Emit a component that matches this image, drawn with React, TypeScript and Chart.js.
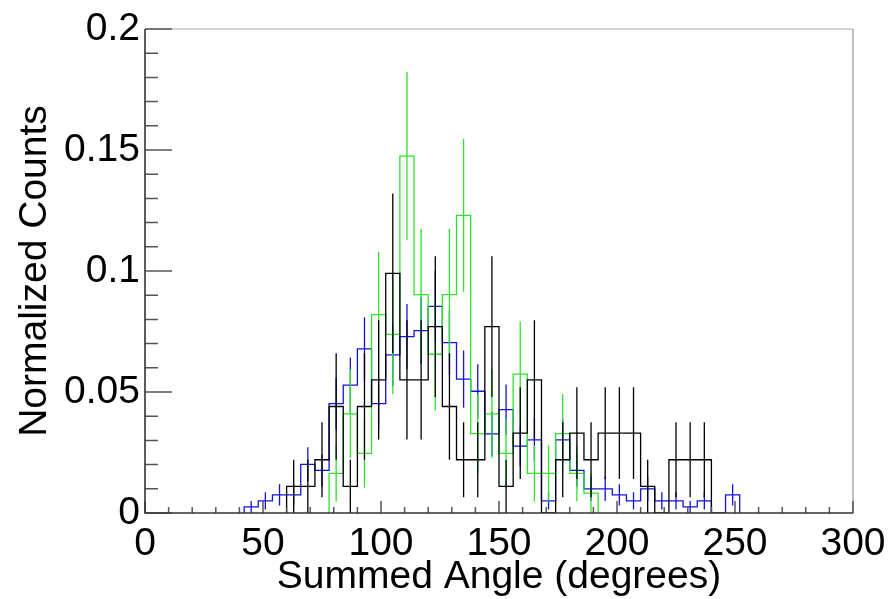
import { useEffect, useRef } from 'react';
import { Chart, registerables } from 'chart.js';

Chart.register(...registerables);

// Bin centres (degrees), 6-degree bins
const angleBins = [45, 51, 57, 63, 69, 75, 81, 87, 93, 99, 105, 111, 117, 123, 129, 135, 141, 147, 153, 159, 165, 171, 177, 183, 189, 195, 201, 207, 213, 219, 225, 231, 237, 243, 249];
const BIN_WIDTH = 6;

const blackValues = [0, 0, 0, 0.011, 0.011, 0.022, 0.044, 0.011, 0.044, 0.055, 0.099, 0.055, 0.055, 0.077, 0.044, 0.022, 0.022, 0.077, 0.011, 0.033, 0.055, 0, 0.022, 0.033, 0.022, 0.033, 0.033, 0.033, 0.011, 0, 0.022, 0.022, 0.022, 0, 0];
const blackErrors = [0, 0, 0, 0.011, 0.011, 0.0155, 0.022, 0.011, 0.022, 0.0246, 0.033, 0.0246, 0.0246, 0.0291, 0.022, 0.0155, 0.0155, 0.0291, 0.011, 0.019, 0.0246, 0, 0.0155, 0.019, 0.0155, 0.019, 0.019, 0.019, 0.011, 0, 0.0155, 0.0155, 0.0155, 0, 0];

const greenValues = [0, 0, 0, 0, 0, 0, 0.0164, 0.041, 0.0246, 0.082, 0.0738, 0.1475, 0.0902, 0.0656, 0.0902, 0.123, 0.0328, 0.041, 0.0246, 0.0574, 0.0164, 0.0164, 0.0328, 0.0164, 0.0082, 0, 0, 0, 0, 0, 0, 0, 0, 0, 0];
const greenErrors = [0, 0, 0, 0, 0, 0, 0.0116, 0.0183, 0.0142, 0.0259, 0.0246, 0.0348, 0.0272, 0.0232, 0.0272, 0.0317, 0.0164, 0.0183, 0.0142, 0.0217, 0.0116, 0.0116, 0.0164, 0.0116, 0.0082, 0, 0, 0, 0, 0, 0, 0, 0, 0, 0];

const blueValues = [0.0025, 0.005, 0.0075, 0.0075, 0.0201, 0.0176, 0.0452, 0.0528, 0.0678, 0.0452, 0.0653, 0.0729, 0.0754, 0.0854, 0.0704, 0.0553, 0.0503, 0.0327, 0.0427, 0.0276, 0.0302, 0.005, 0.0302, 0.0176, 0.01, 0.01, 0.0075, 0.005, 0.01, 0.005, 0.005, 0.0025, 0.005, 0, 0.0075];
const blueErrors = [0.0025, 0.0036, 0.0044, 0.0044, 0.0071, 0.0066, 0.0107, 0.0115, 0.0131, 0.0107, 0.0128, 0.0135, 0.0138, 0.0147, 0.0133, 0.0118, 0.0112, 0.0091, 0.0104, 0.0083, 0.0087, 0.0036, 0.0087, 0.0066, 0.005, 0.005, 0.0044, 0.0036, 0.005, 0.0036, 0.0036, 0.0025, 0.0036, 0, 0.0044];

const xTickValues = [0, 50, 100, 150, 200, 250, 300];
const xTickLabels = ['0', '50', '100', '150', '200', '250', '300'];
const yTickValues = [0, 0.05, 0.1, 0.15, 0.2];
const yTickLabels = ['0', '0.05', '0.1', '0.15', '0.2'];
const X_MINOR = 10;
const Y_MINOR = 0.01;

const BLACK = '#000000';
const GREEN = '#2ee22e';
const BLUE = '#1414d8';
const FONT = 'Liberation Sans, Arial, Helvetica, sans-serif';

function stepPoints(values: number[]) {
  const first = values.findIndex((v) => v > 0);
  let last = values.length - 1;
  while (last > 0 && !(values[last] > 0)) last--;
  const pts: { x: number; y: number }[] = [];
  pts.push({ x: angleBins[first] - BIN_WIDTH / 2, y: 0 });
  for (let i = first; i <= last; i++) pts.push({ x: angleBins[i] - BIN_WIDTH / 2, y: values[i] });
  pts.push({ x: angleBins[last] + BIN_WIDTH / 2, y: 0 });
  return pts;
}

function errorPoints(values: number[], errors: number[]) {
  const pts: { x: number; y: number | null }[] = [];
  values.forEach((v, i) => {
    if (v > 0) {
      pts.push({ x: angleBins[i], y: Math.max(0, v - errors[i]) });
      pts.push({ x: angleBins[i], y: v + errors[i] });
      pts.push({ x: angleBins[i], y: null });
    }
  });
  return pts;
}

const framePlugin = {
  id: 'rootFrame',
  afterDatasetsDraw(chart: any) {
    const { ctx, chartArea } = chart;
    const xs = chart.scales.x;
    const ys = chart.scales.y;
    const { left, right, top, bottom } = chartArea;
    ctx.save();
    ctx.lineWidth = 1.5;
    ctx.strokeStyle = '#c4c4c4';
    ctx.beginPath();
    ctx.moveTo(left, top);
    ctx.lineTo(right, top);
    ctx.stroke();
    ctx.strokeStyle = '#a8a8a8';
    ctx.beginPath();
    ctx.moveTo(right, top);
    ctx.lineTo(right, bottom);
    ctx.stroke();
    ctx.strokeStyle = '#555555';
    ctx.lineWidth = 1.5;
    ctx.beginPath();
    for (let k = 0; k <= 30; k++) {
      const v = k * X_MINOR;
      const px = xs.getPixelForValue(v);
      const len = k % 5 === 0 ? 12 : 6;
      ctx.moveTo(px, bottom);
      ctx.lineTo(px, bottom - len);
    }
    for (let k = 0; k <= 20; k++) {
      const v = k * Y_MINOR;
      const py = ys.getPixelForValue(v);
      const len = k % 5 === 0 ? 27 : 13;
      ctx.moveTo(left, py);
      ctx.lineTo(left + len, py);
    }
    ctx.stroke();
    ctx.strokeStyle = '#333333';
    ctx.lineWidth = 1.6;
    ctx.beginPath();
    ctx.moveTo(left, top);
    ctx.lineTo(left, bottom);
    ctx.lineTo(right, bottom);
    ctx.stroke();
    ctx.restore();
  },
};

export default function App() {
  const ref = useRef<HTMLCanvasElement | null>(null);

  useEffect(() => {
    if (!ref.current) return;
    const mk = (label: string, color: string, values: number[]) => ({
      label,
      data: stepPoints(values),
      borderColor: color,
      backgroundColor: color,
      borderWidth: 1.3,
      pointRadius: 0,
      stepped: 'before' as const,
      fill: false,
      tension: 0,
    });
    const mkErr = (label: string, color: string, values: number[], errors: number[]) => ({
      label,
      data: errorPoints(values, errors),
      borderColor: color,
      backgroundColor: color,
      borderWidth: 1.3,
      pointRadius: 0,
      spanGaps: false,
      fill: false,
      tension: 0,
    });
    const chart = new Chart(ref.current, {
      type: 'line',
      data: {
        datasets: [
          mk('black', BLACK, blackValues),
          mkErr('black err', BLACK, blackValues, blackErrors),
          mk('green', GREEN, greenValues),
          mkErr('green err', GREEN, greenValues, greenErrors),
          mk('blue', BLUE, blueValues),
          mkErr('blue err', BLUE, blueValues, blueErrors),
        ] as any,
      },
      options: {
        animation: false,
        responsive: false,
        events: [],
        layout: { padding: { left: 0, top: 29, right: 37, bottom: 0 } },
        plugins: { legend: { display: false }, tooltip: { enabled: false } },
        scales: {
          x: {
            type: 'linear',
            min: 0,
            max: 300,
            grid: { display: false, drawTicks: false },
            border: { display: false },
            afterBuildTicks: (s: any) => {
              s.ticks = xTickValues.map((v) => ({ value: v }));
            },
            afterFit: (s: any) => {
              s.height = 86;
              s.paddingLeft = 0;
              s.paddingRight = 0;
            },
            ticks: {
              autoSkip: false,
              maxRotation: 0,
              padding: 8,
              color: '#000',
              font: { family: FONT, size: 39 },
              callback: (_v: any, i: number) => xTickLabels[i],
            },
            title: {
              display: true,
              text: 'Summed Angle (degrees)',
              color: '#000',
              font: { family: FONT, size: 39, lineHeight: 1 },
              padding: { top: 0, bottom: 2 },
            },
          },
          y: {
            type: 'linear',
            min: 0,
            max: 0.2,
            grid: { display: false, drawTicks: false },
            border: { display: false },
            afterBuildTicks: (s: any) => {
              s.ticks = yTickValues.map((v) => ({ value: v }));
            },
            afterFit: (s: any) => {
              s.width = 145;
              s.paddingTop = 0;
              s.paddingBottom = 0;
            },
            ticks: {
              autoSkip: false,
              padding: 5,
              color: '#000',
              font: { family: FONT, size: 39 },
              callback: (_v: any, i: number) => yTickLabels[i],
            },
            title: {
              display: true,
              text: 'Normalized Counts',
              color: '#000',
              font: { family: FONT, size: 39, lineHeight: 1 },
              padding: { top: 16, bottom: 0 },
            },
          },
        },
      },
      plugins: [framePlugin],
    });
    return () => chart.destroy();
  }, []);

  return (
    <div style={{ position: 'fixed', left: 0, top: 0, width: 890, height: 599, background: '#fff' }}>
      <canvas ref={ref} width={890} height={599} style={{ width: 890, height: 599 }} />
    </div>
  );
}
